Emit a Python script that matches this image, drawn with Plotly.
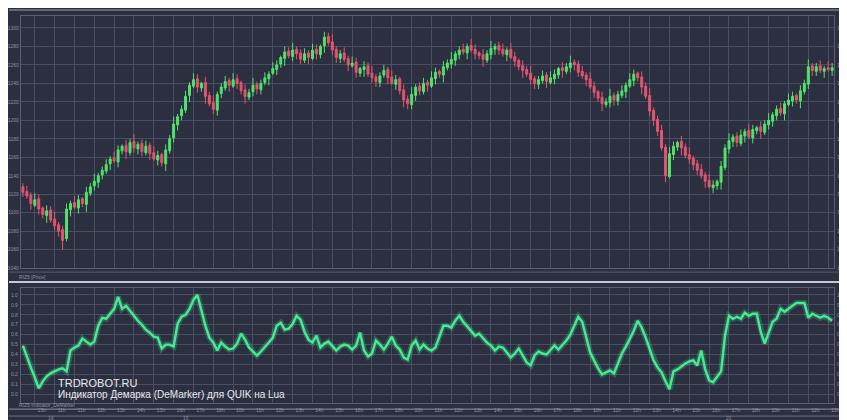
import plotly.graph_objects as go

# ---- data ----
OPEN = [1128,1123,1119,1108,1115,1105,1097,1103,1093,1087,
        1082,1072,1103,1111,1105,1115,1109,1121,1129,1133,
        1141,1145,1153,1159,1155,1167,1173,1165,1177,1169,
        1175,1165,1173,1165,1157,1163,1153,1167,1181,1195,
        1205,1211,1227,1237,1245,1235,1241,1227,1219,1211,
        1229,1235,1243,1237,1245,1241,1233,1225,1231,1239,
        1233,1241,1245,1251,1255,1261,1267,1275,1269,1277,
        1273,1265,1273,1267,1277,1271,1281,1291,1285,1277,
        1267,1273,1267,1259,1263,1251,1255,1259,1251,1247,
        1241,1249,1255,1247,1239,1245,1233,1223,1217,1227,
        1237,1231,1241,1237,1245,1253,1249,1257,1261,1265,
        1271,1277,1273,1281,1277,1273,1271,1265,1271,1277,
        1281,1277,1271,1277,1269,1265,1259,1255,1251,1245,
        1239,1243,1249,1241,1245,1249,1257,1253,1257,1263,
        1261,1253,1249,1245,1237,1231,1225,1217,1219,1227,
        1221,1227,1231,1237,1243,1251,1247,1237,1227,1211,
        1201,1189,1171,1139,1163,1171,1177,1171,1163,1159,
        1153,1147,1141,1135,1127,1129,1133,1149,1169,1177,
        1183,1175,1183,1189,1181,1189,1193,1187,1195,1199,
        1205,1213,1207,1217,1221,1227,1221,1231,1239,1259,
        1253,1259,1253,1257,1254]
HIGH = [1132,1129,1122,1121,1120,1107,1108,1107,1101,1090,
        1086,1110,1113,1118,1119,1117,1128,1132,1142,1143,
        1150,1158,1161,1166,1173,1174,1179,1180,1185,1177,
        1179,1178,1176,1172,1167,1165,1174,1184,1204,1207,
        1216,1232,1241,1251,1250,1242,1247,1231,1227,1231,
        1240,1248,1246,1251,1250,1243,1239,1234,1246,1242,
        1244,1252,1253,1263,1265,1270,1280,1279,1284,1280,
        1277,1278,1276,1283,1282,1282,1296,1295,1293,1280,
        1276,1279,1270,1269,1268,1258,1264,1263,1259,1250,
        1252,1260,1258,1254,1249,1247,1239,1227,1236,1239,
        1241,1246,1244,1253,1257,1255,1264,1266,1274,1275,
        1280,1283,1283,1288,1282,1275,1277,1276,1286,1283,
        1285,1283,1279,1284,1274,1267,1265,1259,1259,1248,
        1248,1254,1252,1253,1255,1258,1263,1262,1270,1266,
        1265,1259,1252,1252,1242,1233,1231,1224,1234,1230,
        1232,1238,1241,1251,1255,1253,1253,1241,1235,1214,
        1205,1195,1174,1171,1177,1178,1183,1175,1171,1162,
        1157,1153,1144,1142,1135,1136,1156,1174,1186,1185,
        1187,1190,1191,1196,1195,1194,1199,1200,1208,1209,
        1216,1219,1221,1229,1231,1229,1238,1244,1266,1262,
        1262,1265,1259,1264,1262]
LOW = [1117,1115,1103,1106,1098,1094,1089,1089,1081,1074,
       1060,1069,1096,1104,1099,1106,1101,1118,1124,1127,
       1136,1142,1146,1154,1149,1163,1158,1162,1165,1163,
       1161,1162,1157,1156,1151,1150,1145,1164,1176,1189,
       1200,1208,1220,1235,1230,1231,1218,1215,1207,1205,
       1224,1232,1231,1235,1234,1228,1218,1222,1226,1228,
       1228,1238,1238,1249,1249,1257,1259,1267,1264,1266,
       1261,1262,1261,1265,1266,1267,1273,1281,1271,1262,
       1262,1263,1253,1257,1246,1247,1247,1247,1241,1236,
       1236,1246,1239,1238,1233,1228,1214,1212,1212,1221,
       1227,1228,1231,1235,1239,1246,1241,1254,1256,1259,
       1266,1271,1266,1274,1266,1266,1258,1262,1266,1271,
       1271,1269,1264,1266,1258,1254,1246,1247,1239,1234,
       1234,1240,1235,1239,1239,1245,1246,1250,1252,1254,
       1247,1245,1237,1234,1224,1220,1210,1214,1214,1216,
       1216,1224,1224,1235,1237,1242,1228,1223,1205,1194,
       1183,1167,1133,1137,1157,1167,1162,1159,1153,1146,
       1141,1137,1127,1126,1121,1125,1125,1146,1164,1171,
       1171,1172,1176,1180,1175,1185,1180,1184,1190,1193,
       1200,1205,1200,1215,1215,1218,1213,1228,1234,1248,
       1248,1251,1246,1253,1248]
CLOSE = [1122,1118,1110,1114,1104,1098,1102,1092,1086,1080,
         1070,1104,1110,1106,1114,1110,1122,1128,1134,1140,
         1146,1152,1158,1156,1168,1172,1166,1176,1170,1174,
         1166,1172,1164,1158,1162,1154,1168,1180,1196,1204,
         1212,1226,1238,1244,1236,1240,1226,1218,1212,1228,
         1236,1242,1238,1244,1240,1232,1226,1230,1238,1234,
         1240,1246,1250,1256,1260,1268,1274,1270,1276,1272,
         1266,1272,1268,1276,1272,1280,1290,1284,1276,1268,
         1272,1266,1260,1262,1252,1256,1258,1250,1246,1242,
         1248,1254,1246,1240,1244,1232,1222,1218,1228,1236,
         1232,1240,1238,1246,1252,1250,1258,1262,1266,1272,
         1276,1274,1280,1276,1272,1270,1266,1272,1278,1280,
         1276,1272,1276,1268,1264,1258,1254,1250,1244,1240,
         1244,1248,1242,1246,1250,1256,1254,1258,1262,1260,
         1252,1248,1244,1236,1230,1224,1218,1220,1226,1222,
         1228,1232,1238,1244,1250,1246,1236,1226,1210,1200,
         1188,1170,1140,1164,1172,1176,1170,1162,1158,1152,
         1146,1140,1134,1128,1130,1134,1150,1170,1178,1182,
         1176,1184,1188,1182,1190,1192,1188,1196,1200,1206,
         1212,1208,1218,1222,1226,1222,1232,1240,1258,1254,
         1258,1254,1256,1255,1257]
DEMARKER = [0.49,0.39,0.27,0.17,0.06,0.13,0.18,0.21,0.23,0.25,
            0.26,0.23,0.44,0.47,0.49,0.56,0.53,0.50,0.53,0.69,
            0.77,0.76,0.81,0.86,0.98,0.86,0.89,0.84,0.78,0.74,
            0.70,0.65,0.62,0.58,0.57,0.46,0.50,0.50,0.48,0.71,
            0.78,0.80,0.86,0.95,1.00,0.83,0.69,0.57,0.52,0.44,
            0.52,0.48,0.45,0.46,0.51,0.61,0.55,0.47,0.43,0.39,
            0.43,0.47,0.52,0.57,0.69,0.72,0.65,0.66,0.71,0.79,
            0.75,0.63,0.55,0.52,0.59,0.47,0.51,0.53,0.48,0.44,
            0.48,0.50,0.49,0.45,0.49,0.62,0.44,0.38,0.41,0.54,
            0.50,0.45,0.51,0.58,0.49,0.45,0.37,0.35,0.49,0.54,
            0.45,0.50,0.46,0.44,0.47,0.57,0.69,0.69,0.67,0.74,
            0.79,0.73,0.68,0.63,0.59,0.61,0.56,0.52,0.49,0.44,
            0.48,0.47,0.42,0.37,0.41,0.46,0.39,0.32,0.29,0.39,
            0.43,0.41,0.40,0.44,0.49,0.45,0.49,0.54,0.60,0.69,
            0.78,0.73,0.57,0.42,0.34,0.26,0.20,0.22,0.24,0.21,
            0.32,0.41,0.48,0.56,0.64,0.74,0.67,0.57,0.46,0.34,
            0.27,0.22,0.13,0.05,0.23,0.25,0.28,0.31,0.33,0.34,
            0.29,0.44,0.25,0.14,0.12,0.17,0.23,0.59,0.79,0.76,
            0.78,0.76,0.82,0.79,0.81,0.81,0.63,0.51,0.62,0.73,
            0.76,0.86,0.83,0.86,0.89,0.92,0.92,0.92,0.77,0.81,
            0.79,0.77,0.79,0.77,0.74]
HOUR_TICKS = ["15h","11h","11h","12h","13h","14h","15h","16h","17h","18h",
              "10h","11h","12h","13h","14h","15h","16h","17h","18h","10h",
              "11h","12h","13h","14h","15h","16h","17h","18h","10h","11h",
              "12h","13h","14h","15h","16h","17h","18h","10h","11h","12h","13h"]
DATE_LABELS = ["14", "15", "21"]
DATE_POS = [6, 40, 177]
PRICE_TICKS = [1040,1060,1080,1100,1120,1140,1160,1180,1200,1220,1240,1260,1280,1300]
DEM_TICKS = [0.0,0.1,0.2,0.3,0.4,0.5,0.6,0.7,0.8,0.9,1.0]

n = len(CLOSE)
assert len(OPEN) == n and len(HIGH) == n and len(LOW) == n and len(DEMARKER) == n
X = list(range(n))
tickpos = list(range(3, n, 5))
assert len(tickpos) == len(HOUR_TICKS), (len(tickpos), len(HOUR_TICKS))

W, H = 847, 420
BG = "#2c2f3f"
GRID = "#4a4e63"
TICKC = "#8c90a4"
GREEN = "#52e36c"
RED = "#e35570"
LINE = "#46ea94"

def py(px):
    return 1 - px / H

xdom = [12 / W, 831 / W]

fig = go.Figure()
fig.add_trace(go.Candlestick(
    x=X, open=OPEN, high=HIGH, low=LOW, close=CLOSE,
    increasing=dict(line=dict(color=GREEN, width=1), fillcolor=GREEN),
    decreasing=dict(line=dict(color=RED, width=1), fillcolor=RED),
    whiskerwidth=0, xaxis="x", yaxis="y", showlegend=False, hoverinfo="skip"))
fig.add_trace(go.Scatter(x=X, y=DEMARKER, mode="lines", xaxis="x2", yaxis="y2",
                         line=dict(color="rgba(60,230,140,0.25)", width=6),
                         showlegend=False, hoverinfo="skip"))
fig.add_trace(go.Scatter(x=X, y=DEMARKER, mode="lines", xaxis="x2", yaxis="y2",
                         line=dict(color=LINE, width=2.4),
                         showlegend=False, hoverinfo="skip"))

axis_common = dict(gridcolor=GRID, gridwidth=1, zeroline=False,
                   showline=True, linecolor="#5a5e74", mirror=True,
                   tickfont=dict(size=5, color=TICKC, family="Liberation Sans"),
                   ticks="")

fig.update_layout(
    width=W, height=H,
    margin=dict(l=0, r=0, t=0, b=0),
    paper_bgcolor=BG, plot_bgcolor=BG,
    font=dict(family="Liberation Sans", color=TICKC),
    xaxis=dict(domain=xdom, range=[-0.5, n - 0.5], tickvals=tickpos,
               showticklabels=False, rangeslider=dict(visible=False),
               anchor="y", **axis_common),
    yaxis=dict(domain=[py(262), py(8)], range=[1040, 1313], tickvals=PRICE_TICKS,
               side="right", anchor="x", ticklabelstandoff=1, **axis_common),
    yaxis3=dict(range=[1040, 1313], tickvals=PRICE_TICKS, overlaying="y",
                side="left", anchor="x", showgrid=False, zeroline=False,
                tickfont=dict(size=5, color=TICKC), ticklabelstandoff=1),
    xaxis2=dict(domain=xdom, range=[-0.5, n - 0.5], tickvals=tickpos,
                ticktext=HOUR_TICKS, anchor="y2", ticklabelshift=7,
                ticklabelstandoff=2, **axis_common),
    yaxis2=dict(domain=[py(398), py(282)], range=[-0.09, 1.07], tickvals=DEM_TICKS,
                tickformat=".1f", side="left", anchor="x2", ticklabelstandoff=1,
                **axis_common),
    yaxis4=dict(range=[-0.09, 1.07], tickvals=DEM_TICKS, tickformat=".1f",
                overlaying="y2", side="right", anchor="x2", showgrid=False,
                zeroline=False, tickfont=dict(size=5, color=TICKC),
                ticklabelstandoff=2),
)

# invisible traces so the mirrored label axes render
fig.add_trace(go.Scatter(x=[0], y=[1200], xaxis="x", yaxis="y3", mode="markers",
                         marker=dict(opacity=0), showlegend=False, hoverinfo="skip"))
fig.add_trace(go.Scatter(x=[0], y=[0.5], xaxis="x2", yaxis="y4", mode="markers",
                         marker=dict(opacity=0), showlegend=False, hoverinfo="skip"))

shapes = [
    dict(type="line", xref="paper", yref="paper", x0=0, x1=1, y0=py(2), y1=py(2),
         line=dict(color="#9a9eb0", width=1)),
    dict(type="line", xref="paper", yref="paper", x0=0, x1=1, y0=py(266), y1=py(266),
         line=dict(color="#555a6e", width=1)),
    dict(type="line", xref="paper", yref="paper", x0=0, x1=1, y0=py(276), y1=py(276),
         line=dict(color="#c4c8d4", width=2)),
    dict(type="line", xref="paper", yref="paper", x0=0, x1=1, y0=py(404), y1=py(404),
         line=dict(color="#8d91a4", width=1)),
    dict(type="line", xref="paper", yref="paper", x0=0, x1=1, y0=py(411), y1=py(411),
         line=dict(color="#6d7186", width=1)),
]
fig.update_layout(shapes=shapes)

ann = [
    dict(text="RIZ5 [Price]", x=8 / W, y=py(271), xref="paper", yref="paper",
         xanchor="left", yanchor="middle", showarrow=False,
         font=dict(size=5, color=TICKC)),
    dict(text="RIZ5 Indicator_DeMarker", x=8 / W, y=py(400), xref="paper", yref="paper",
         xanchor="left", yanchor="middle", showarrow=False,
         font=dict(size=5, color=TICKC)),
    dict(text="TRDROBOT.RU", x=47 / W, y=py(378), xref="paper", yref="paper",
         xanchor="left", yanchor="middle", showarrow=False,
         font=dict(size=11, color="#e8eaf0", family="Liberation Sans")),
    dict(text="Индикатор Демарка (DeMarker) для QUIK на Lua", x=47 / W, y=py(389),
         xref="paper", yref="paper", xanchor="left", yanchor="middle", showarrow=False,
         font=dict(size=10, color="#e8eaf0", family="Liberation Sans")),
]
for lbl, pos in zip(DATE_LABELS, DATE_POS):
    ann.append(dict(text=lbl, x=pos, y=py(409), xref="x2", yref="paper",
                    xanchor="left", yanchor="top", showarrow=False,
                    borderpad=0, font=dict(size=5, color=TICKC)))
fig.update_layout(annotations=ann)

fig.write_html("out.html")
